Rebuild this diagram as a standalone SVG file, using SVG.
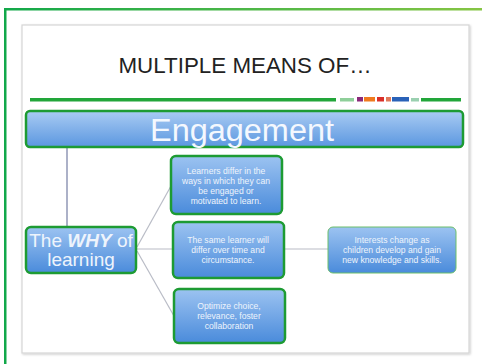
<svg xmlns="http://www.w3.org/2000/svg" width="482" height="364" viewBox="0 0 482 364">
<defs>
<linearGradient id="topline" x1="0" y1="0" x2="1" y2="0"><stop offset="0" stop-color="#12a84a"/><stop offset="1" stop-color="#86c544"/></linearGradient>
<linearGradient id="boxg" x1="0" y1="0" x2="0" y2="1"><stop offset="0" stop-color="#9cc3f1"/><stop offset="1" stop-color="#4a8bdb"/></linearGradient>
<linearGradient id="barg" x1="0" y1="0" x2="0" y2="1"><stop offset="0" stop-color="#a9cbf3"/><stop offset="1" stop-color="#5b97e0"/></linearGradient>
<filter id="sh" x="-5%" y="-5%" width="110%" height="110%"><feDropShadow dx="1" dy="1" stdDeviation="1" flood-color="#000" flood-opacity="0.2"/></filter>
</defs>
<style>
.node rect{fill:url(#boxg);stroke:#1d9b33;stroke-width:2.5}
.small{font-family:"Liberation Sans",Arial,sans-serif;font-size:8.6px;fill:#eef4fc;text-anchor:middle}
.conn line{stroke:#b9bcc6;stroke-width:1.2}
</style>
<rect width="482" height="364" fill="#ffffff"/>
<!-- outer frame -->
<rect x="5" y="8" width="477" height="2.5" fill="url(#topline)"/>
<rect x="4" y="8" width="2.5" height="356" fill="#12a84a"/>
<!-- slide -->
<rect x="22" y="25" width="447" height="328" fill="#ffffff" stroke="#d6d6d6" stroke-width="1.2" filter="url(#sh)"/>
<text x="245" y="73" font-family="Liberation Sans,Arial,sans-serif" font-size="22" fill="#222" text-anchor="middle" textLength="253" lengthAdjust="spacingAndGlyphs">MULTIPLE MEANS OF…</text>
<!-- green rule -->
<rect x="30" y="98" width="306" height="3.5" fill="#22a63a"/>
<rect x="340" y="98" width="14" height="3.5" fill="#8fcf9a"/>
<rect x="357" y="97" width="6" height="4.5" fill="#8a2a7a"/>
<rect x="364" y="97" width="11" height="4.5" fill="#f07a1e"/>
<rect x="377" y="97" width="7" height="4.5" fill="#d9302a"/>
<rect x="386" y="97" width="5" height="4.5" fill="#e07a5a"/>
<rect x="392" y="97" width="17" height="4.5" fill="#2a62b8"/>
<rect x="411" y="98" width="8" height="3.5" fill="#9ad0b0"/>
<rect x="421" y="98" width="40" height="3.5" fill="#22a63a"/>
<!-- connectors -->
<g id="connectors" class="conn">
<line x1="67" y1="147" x2="67" y2="226" style="stroke:#a3a9c2;stroke-width:1.8"/>
<line x1="137" y1="247" x2="171" y2="186"/>
<line x1="137" y1="249" x2="173" y2="249"/>
<line x1="137" y1="251" x2="174" y2="316"/>
<line x1="284" y1="249" x2="328" y2="249"/>
</g>
<g id="engagement" class="node">
<rect x="26" y="111" width="437" height="36" rx="4" style="fill:url(#barg)"/>
<text x="242" y="141" font-family="Liberation Sans,Arial,sans-serif" font-size="31" fill="#f4f8fe" text-anchor="middle" textLength="184" lengthAdjust="spacingAndGlyphs">Engagement</text>
</g>
<g id="why" class="node">
<rect x="26" y="227" width="110" height="46" rx="5"/>
<text x="81" y="247" font-family="Liberation Sans,Arial,sans-serif" font-size="19" fill="#eef4fc" text-anchor="middle">The <tspan font-weight="bold" font-style="italic">WHY</tspan> of</text>
<text x="81" y="266" font-family="Liberation Sans,Arial,sans-serif" font-size="19" fill="#eef4fc" text-anchor="middle">learning</text>
</g>
<g id="box1" class="node">
<rect x="171" y="156" width="111" height="58" rx="5"/>
<text class="small" x="226" y="174">Learners differ in the</text>
<text class="small" x="226" y="184">ways in which they can</text>
<text class="small" x="226" y="194">be engaged or</text>
<text class="small" x="226" y="204">motivated to learn.</text>
</g>
<g id="box2" class="node">
<rect x="173" y="222" width="111" height="56" rx="5"/>
<text class="small" x="228" y="243">The same learner will</text>
<text class="small" x="228" y="253">differ over time and</text>
<text class="small" x="228" y="263">circumstance.</text>
</g>
<g id="box3" class="node">
<rect x="328" y="227" width="128" height="46" rx="5" style="stroke:#6cbf6a;stroke-width:1"/>
<text class="small" x="392" y="243">Interests change as</text>
<text class="small" x="392" y="253">children develop and gain</text>
<text class="small" x="392" y="263">new knowledge and skills.</text>
</g>
<g id="box4" class="node">
<rect x="174" y="289" width="111" height="54" rx="5"/>
<text class="small" x="229" y="309">Optimize choice,</text>
<text class="small" x="229" y="319">relevance, foster</text>
<text class="small" x="229" y="329">collaboration</text>
</g>
</svg>
